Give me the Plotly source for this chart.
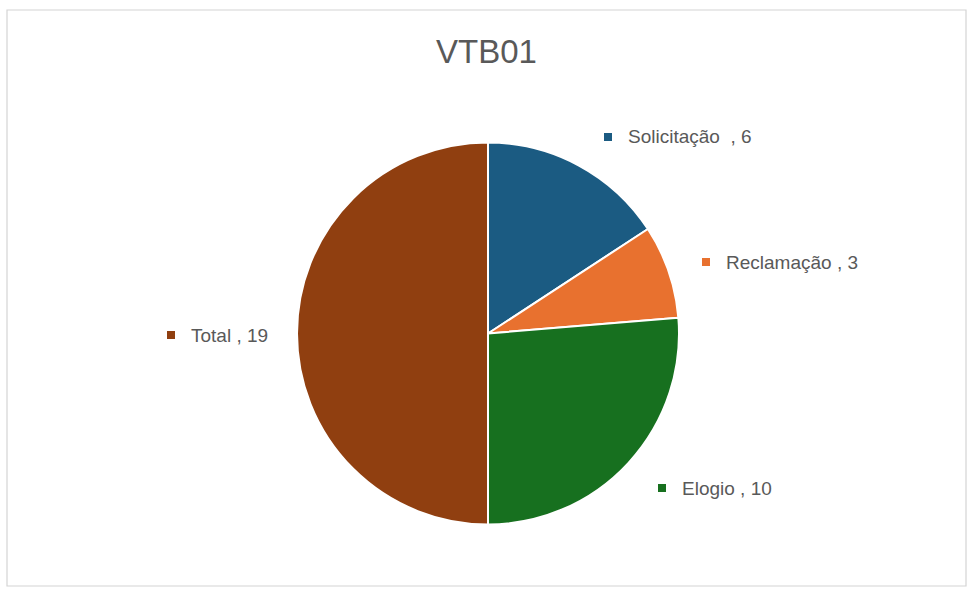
import plotly.graph_objects as go

categories = ["Solicitação\u00a0\u00a0", "Reclamação\u00a0", "Elogio ", "Total "]
values = [6, 3, 10, 19]
colors = ["#1b5b82", "#e8712f", "#17701f", "#903f10"]
title_text = "VTB01"

# label anchor positions (marker centre, in page pixels)
label_pos = [(608, 137), (706, 262), (662, 488), (171, 335)]

W, H = 969, 589


def px(x):
    return x / W


def py(y):
    return 1 - y / H


cx, cy, r = 488, 333.5, 191

fig = go.Figure()
fig.add_trace(go.Pie(
    labels=categories,
    values=values,
    sort=False,
    direction="clockwise",
    rotation=0,
    marker=dict(colors=colors, line=dict(color="white", width=2)),
    textinfo="none",
    hoverinfo="label+value",
    showlegend=False,
    domain=dict(x=[px(cx - r), px(cx + r)], y=[py(cy + r), py(cy - r)]),
))

shapes = [dict(type="rect", xref="paper", yref="paper",
               x0=px(7), x1=px(966), y0=py(586), y1=py(10),
               line=dict(color="#d4d4d4", width=1.2), fillcolor="rgba(0,0,0,0)")]
annotations = [dict(text=title_text, xref="paper", yref="paper",
                    x=px(486), y=py(52), xanchor="center", yanchor="middle",
                    showarrow=False,
                    font=dict(family="Liberation Sans, Arial", size=33, color="#595959"))]

for name, val, col, (mx, my) in zip(categories, values, colors, label_pos):
    s = 4
    shapes.append(dict(type="rect", xref="paper", yref="paper",
                       x0=px(mx - s), x1=px(mx + s), y0=py(my + s), y1=py(my - s),
                       line=dict(width=0), fillcolor=col))
    annotations.append(dict(text=f"{name}, {val}", xref="paper", yref="paper",
                            x=px(mx + 18), y=py(my), xanchor="left", yanchor="middle",
                            showarrow=False,
                            font=dict(family="Liberation Sans, Arial", size=19, color="#595959")))

fig.update_layout(
    width=W, height=H,
    margin=dict(l=0, r=0, t=0, b=0),
    paper_bgcolor="white", plot_bgcolor="white",
    shapes=shapes, annotations=annotations,
)

fig.write_html("out.html",
               config={"displayModeBar": False},
               post_script="document.body.style.margin='0';document.body.style.overflow='hidden';")
